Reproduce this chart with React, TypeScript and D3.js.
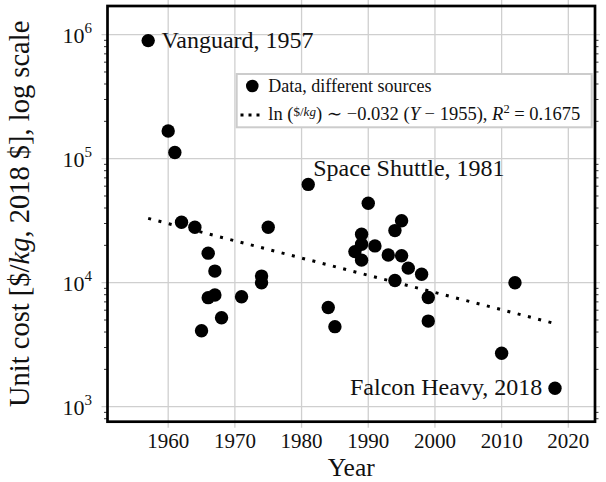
import React from "react";
import * as d3 from "d3";

const years = [1957, 1960, 1961, 1962, 1964, 1965, 1966, 1966, 1967, 1967, 1968, 1971, 1974, 1974, 1975, 1981, 1984, 1985, 1988, 1989, 1989, 1989, 1990, 1991, 1993, 1994, 1994, 1995, 1995, 1996, 1998, 1999, 1999, 2010, 2012, 2018];
const costs = [895000, 167000, 112000, 30700, 28000, 4100, 17300, 7570, 12400, 7960, 5220, 7700, 11300, 10000, 28000, 62000, 6300, 4420, 17800, 24600, 20400, 15200, 43700, 19800, 16700, 26300, 10400, 31600, 16500, 13100, 11700, 7600, 4900, 2700, 10000, 1410];

const xTicks = [1960, 1970, 1980, 1990, 2000, 2010, 2020];
const yTickExps = [3, 4, 5, 6];

const trendSlope = -0.032;
const trendBaseYear = 1955;
const trendIntercept = 10.468; // ln($/kg) at base year
const trendYears = [1957, 2018];

const annotations = [
  { label: "Vanguard, 1957", year: 1957, cost: 895000, dx: 13.4, dy: 7.3, anchor: "start" },
  { label: "Space Shuttle, 1981", year: 1981, cost: 62000, dx: 5, dy: -8.6, anchor: "start" },
  { label: "Falcon Heavy, 2018", year: 2018, cost: 1410, dx: -12.6, dy: 6.7, anchor: "end" },
];

const FONT = "'Liberation Serif', 'DejaVu Serif', serif";

export default function App() {
  const L = 107.5, R = 595, T = 6, B = 421.7;
  const x = d3.scaleLinear().domain([1950.9, 2024]).range([L, R]);
  const y = d3.scaleLog().domain([Math.pow(10, 2.879), Math.pow(10, 6.231)]).range([B, T]);

  const minor: number[] = [];
  for (let e = 2; e <= 6; e++) {
    for (let m = 2; m <= 9; m++) {
      const v = m * Math.pow(10, e);
      if (v >= y.domain()[0] && v <= y.domain()[1]) minor.push(v);
    }
  }

  const grid = "#cfcfcf";
  const trend = trendYears.map((yr) => [x(yr), y(Math.exp(trendIntercept + trendSlope * (yr - trendBaseYear)))]);
  const line = d3.line();

  return (
    <svg width={606} height={482} style={{ position: "absolute", left: 0, top: 0, background: "#fff" }} fontFamily={FONT}>
      <rect x={0} y={0} width={606} height={482} fill="#fff" />
      {xTicks.map((t) => (
        <line key={"gx" + t} x1={x(t)} x2={x(t)} y1={T - 6} y2={B + 6} stroke={grid} strokeWidth={1.3} />
      ))}
      {yTickExps.map((e) => (
        <line key={"gy" + e} x1={L - 6} x2={R + 5} y1={y(Math.pow(10, e))} y2={y(Math.pow(10, e))} stroke={grid} strokeWidth={1.3} />
      ))}
      {minor.map((v, i) => (
        <g key={"mn" + i}>
          <line x1={L - 3.5} x2={L} y1={y(v)} y2={y(v)} stroke="#333" strokeWidth={1} />
          <line x1={R} x2={R + 3.5} y1={y(v)} y2={y(v)} stroke="#333" strokeWidth={1} />
        </g>
      ))}
      <path d={line(trend as [number, number][]) || ""} stroke="#000" strokeWidth={3} strokeDasharray="3,7.6" fill="none" />
      {years.map((yr, i) => (
        <circle key={"p" + i} cx={x(yr)} cy={y(costs[i])} r={6.7} fill="#000" />
      ))}
      {annotations.map((a) => (
        <text key={a.label} x={x(a.year) + a.dx} y={y(a.cost) + a.dy} fontSize={24} textAnchor={a.anchor as any} fill="#111">
          {a.label}
        </text>
      ))}
      <rect x={L} y={T} width={R - L} height={B - T} fill="none" stroke="#000" strokeWidth={2.7} />
      <g>
        <rect x={236.7} y={74} width={355} height={53.3} fill="#fff" stroke="#cccccc" strokeWidth={2} />
        <circle cx={252.3} cy={86} r={6.3} fill="#000" />
        <text x={268.3} y={91.5} fontSize={18} fill="#111">Data, different sources</text>
        <line x1={240.5} x2={264} y1={115} y2={115} stroke="#000" strokeWidth={3} strokeDasharray="3,5" />
        <text x={268.3} y={120} fontSize={18.5} fill="#111">
          <tspan>ln (</tspan>
          <tspan fontSize={13} dy={-4}>$/</tspan>
          <tspan fontSize={13} fontStyle="italic">kg</tspan>
          <tspan dy={4}>) ∼ −0.032 (</tspan>
          <tspan fontStyle="italic">Y</tspan>
          <tspan> − 1955), </tspan>
          <tspan fontStyle="italic">R</tspan>
          <tspan fontSize={12.5} dy={-7}>2</tspan>
          <tspan dy={7}> = 0.1675</tspan>
        </text>
      </g>
      {xTicks.map((t) => (
        <text key={"xl" + t} x={x(t)} y={448} fontSize={21} textAnchor="middle" fill="#111">{t}</text>
      ))}
      {yTickExps.map((e) => (
        <text key={"yl" + e} x={92} y={y(Math.pow(10, e)) + 8} fontSize={22} textAnchor="end" fill="#111">
          <tspan>10</tspan>
          <tspan fontSize={15} dy={-10}>{e}</tspan>
        </text>
      ))}
      <text x={(L + R) / 2} y={476} fontSize={25.5} textAnchor="middle" fill="#111">Year</text>
      <text transform={`translate(29,${(T + B) / 2}) rotate(-90)`} fontSize={28.5} textAnchor="middle" fill="#111">
        <tspan>Unit cost [$/</tspan>
        <tspan fontStyle="italic">kg</tspan>
        <tspan>, 2018 $], log scale</tspan>
      </text>
    </svg>
  );
}
